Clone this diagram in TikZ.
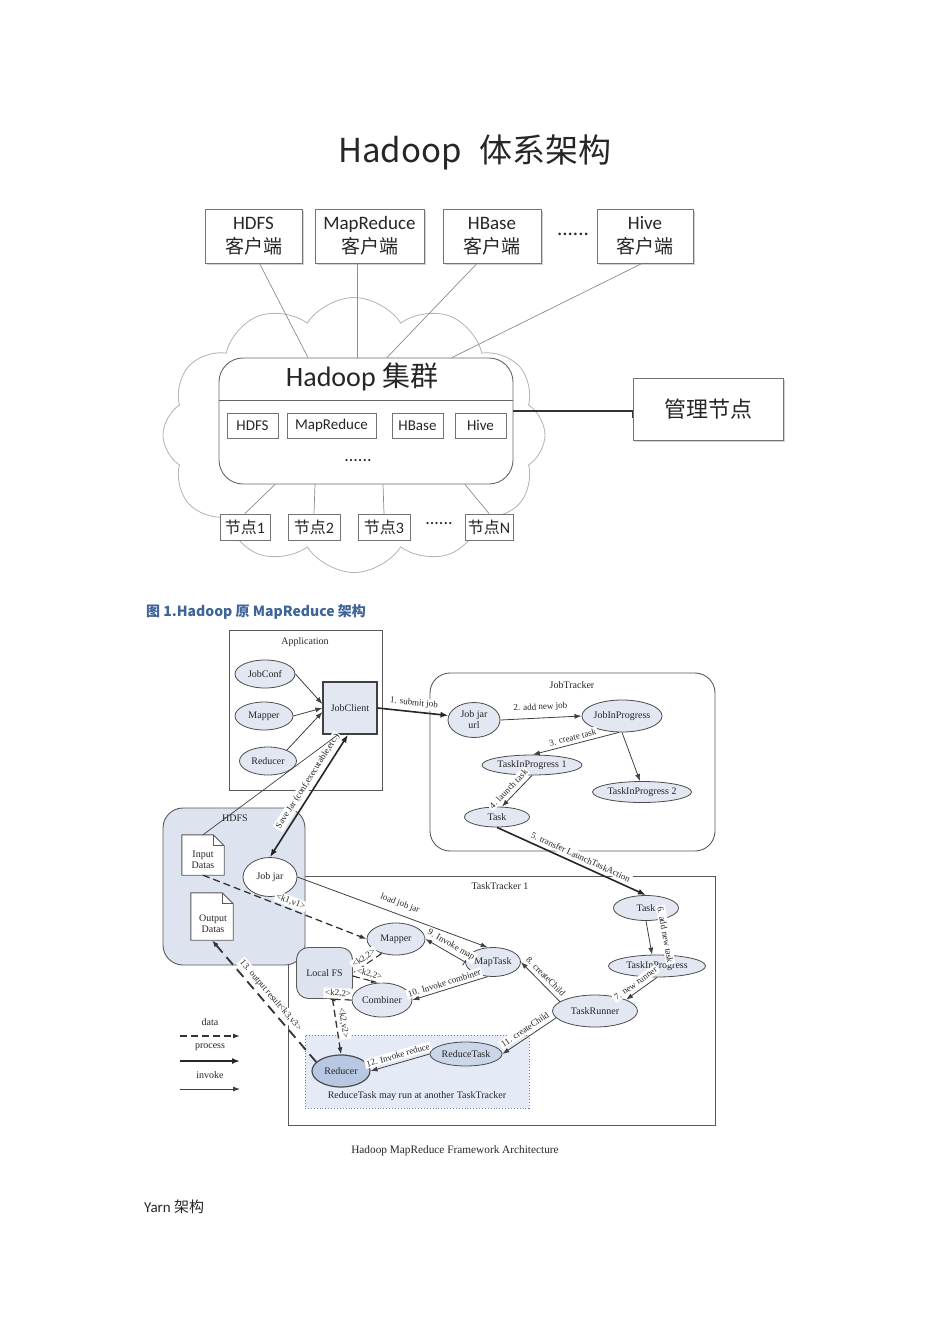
\documentclass[tikz,border=0pt]{standalone}
\usepackage{fontspec}
\setmainfont{Carlito}
\newfontfamily\cjk{Noto Sans CJK SC}
\newfontfamily\tms{Liberation Serif}
\usetikzlibrary{arrows.meta,shapes.geometric,shapes.symbols,shadows}

\definecolor{eblue}{RGB}{226,231,242}
\definecolor{hblue}{RGB}{221,228,240}
\definecolor{rblue}{RGB}{228,234,246}
\definecolor{dblue}{RGB}{184,200,226}
\definecolor{mblue}{RGB}{203,214,233}
\definecolor{capblue}{RGB}{62,100,152}
\definecolor{dotblue}{RGB}{112,122,172}

\begin{document}
\begin{tikzpicture}[x=1pt,y=-1pt,
  every node/.style={inner sep=0pt,text=black!85},
  cbox/.style={draw=black!55,line width=0.9pt,fill=white,align=center,
    drop shadow={shadow xshift=1.5pt,shadow yshift=-1.5pt,fill=black!35},
    font=\fontsize{19}{24}\selectfont},
  ibox/.style={draw=black!55,line width=0.9pt,fill=white,minimum height=25pt,
    drop shadow={shadow xshift=1.2pt,shadow yshift=-1.2pt,fill=black!35},
    font=\fontsize{15}{18}\selectfont},
  nbox/.style={ibox,minimum height=26pt,font=\fontsize{16}{18}\selectfont},
  link/.style={draw=black!45,line width=0.7pt},
  ell/.style={ellipse,draw=black!70,line width=0.8pt,fill=eblue,align=center,
    font=\tms\fontsize{10}{11}\selectfont},
  cont/.style={draw=black!65,line width=0.9pt},
  ttl/.style={font=\tms\fontsize{10}{11}\selectfont,align=center},
  lbl/.style={font=\tms\fontsize{9}{10}\selectfont,fill=white,inner sep=1.5pt,sloped},
  proc/.style={-{Latex[length=8pt,width=6pt]},line width=1.6pt,draw=black!85},
  procb/.style={proc,{Latex[length=8pt,width=6pt]}-{Latex[length=8pt,width=6pt]}},
  inv/.style={-{Latex[length=7pt,width=5pt]},line width=0.8pt,draw=black!75},
  dat/.style={-{Latex[length=7pt,width=5pt]},line width=1.3pt,draw=black!80,dash pattern=on 7pt off 4pt}]
\fill[white] (0,0) rectangle (950,1344);
\useasboundingbox (0,0) rectangle (950,1344);

% Hadoop architecture
\node[font=\cjk\fontsize{33}{38}\selectfont] (title) at (475,152) {Hadoop\hspace{0.55em}体系架构};
\node[cloud,draw=black!30,line width=0.8pt,cloud puffs=12,cloud puff arc=115,aspect=1.4,
  minimum width=382pt,minimum height=275pt] (cloud) at (354,435) {};

\node[cbox,minimum width=97pt,minimum height=54pt] (hdfsc) at (253.5,236) {HDFS\\{\cjk 客户端}};
\node[cbox,minimum width=109pt,minimum height=54pt] (mrc) at (369.5,236) {MapReduce\\{\cjk 客户端}};
\node[cbox,minimum width=98pt,minimum height=54pt] (hbc) at (492,236) {HBase\\{\cjk 客户端}};
\node[font=\fontsize{21}{24}\selectfont] (cdots) at (573,234) {......};
\node[cbox,minimum width=96pt,minimum height=54pt] (hivec) at (645,236) {Hive\\{\cjk 客户端}};

\node[draw=black!60,line width=0.9pt,fill=white,rounded corners=24pt,
  minimum width=294pt,minimum height=126pt] (cluster) at (366,421) {};
\node[font=\fontsize{28}{32}\selectfont] (clttl) at (362,377) {Hadoop {\cjk 集群}};
\draw[draw=black!60,line width=0.9pt] (cluster.west |- 0,400) -- (cluster.east |- 0,400);

\node[ibox,minimum width=51pt] (ihdfs) at (252.5,425.5) {HDFS};
\node[ibox,minimum width=89pt] (imr) at (331.5,425.5) {MapReduce};
\node[ibox,minimum width=51pt] (ihb) at (417.5,425.5) {HBase};
\node[ibox,minimum width=51pt] (ihive) at (480.5,425.5) {Hive};
\node[font=\fontsize{18}{20}\selectfont] (idots) at (358,461) {......};

\node[nbox,minimum width=50pt] (n1) at (245,527) {{\cjk 节点}1};
\node[nbox,minimum width=52pt] (n2) at (314,527) {{\cjk 节点}2};
\node[nbox,minimum width=52pt] (n3) at (384,527) {{\cjk 节点}3};
\node[font=\fontsize{18}{20}\selectfont] (ndots) at (439,524) {......};
\node[nbox,minimum width=48pt] (nN) at (489,527) {{\cjk 节点}N};

\node[cbox,minimum width=150pt,minimum height=62pt,font=\cjk\fontsize{22}{26}\selectfont] (mgmt) at (708,409) {管理节点};

\draw[link] ([xshift=6pt]hdfsc.south) -- ([xshift=-58pt]cluster.north);
\draw[link] ([xshift=-12.5pt]mrc.south) -- ([xshift=-9pt]cluster.north);
\draw[link] ([xshift=-15pt]hbc.south) -- ([xshift=21pt]cluster.north);
\draw[link] ([xshift=-3pt]hivec.south) -- ([xshift=86pt]cluster.north);
\draw[draw=black!80,line width=1.4pt] ([yshift=10pt]cluster.east) -| ([yshift=-9pt]mgmt.west);
\draw[link] ([xshift=-91pt]cluster.south) -- (n1.north);
\draw[link] ([xshift=-51pt]cluster.south) -- (n2.north);
\draw[link] ([xshift=17pt]cluster.south) -- (n3.north);
\draw[link] ([xshift=99pt]cluster.south) -- (nN.north);

% MapReduce framework
\node[anchor=west,font=\cjk\bfseries\fontsize{14}{17}\selectfont,text=capblue] (cap) at (146,612) {图 1.Hadoop 原 MapReduce 架构};

\node[cont,minimum width=427pt,minimum height=249pt] (tt) at (501.5,1000.5) {};
\node[cont,rounded corners=20pt,fill=hblue,minimum width=142pt,minimum height=157pt] (hdfs) at (234,886.5) {};
\node[cont,minimum width=153pt,minimum height=160pt] (app) at (305.5,710.5) {};
\node[cont,rounded corners=20pt,minimum width=285pt,minimum height=178pt] (jt) at (572.5,762) {};
\node[draw=dotblue,dotted,line width=0.9pt,fill=rblue,minimum width=224pt,minimum height=73pt] (rarea) at (417,1071.5) {};
\node[cont,rounded corners=12pt,fill=hblue,minimum width=56pt,minimum height=51pt,
  font=\tms\fontsize{10}{11}\selectfont] (localfs) at (324.5,973) {Local FS};

\node[ttl] (appttl) at (305,642) {Application};
\node[ttl] (jtttl) at (572,685) {JobTracker};
\node[ttl] (ttttl) at (500,886) {TaskTracker 1};
\node[ttl] (hdfsttl) at (235,818) {HDFS};
\node[ttl] (rareattl) at (417,1096) {ReduceTask may run at another TaskTracker};

\node[ell,minimum width=60pt,minimum height=28pt] (jobconf) at (265,674) {JobConf};
\node[ell,minimum width=58pt,minimum height=28pt] (amapper) at (264,716) {Mapper};
\node[ell,minimum width=57pt,minimum height=28pt] (areducer) at (268,761) {Reducer};
\node[draw=black!75,line width=1.3pt,fill=eblue,minimum width=54pt,minimum height=52pt,
  font=\tms\fontsize{10}{11}\selectfont] (jobclient) at (350,708) {JobClient};

\node[ell,minimum width=52pt,minimum height=35pt] (jarurl) at (474,720) {Job jar\\url};
\node[ell,minimum width=80pt,minimum height=32pt] (jip) at (622,716) {JobInProgress};
\node[ell,minimum width=100pt,minimum height=20pt] (tip1) at (532,765) {TaskInProgress 1};
\node[ell,minimum width=99pt,minimum height=21pt] (tip2) at (642,792) {TaskInProgress 2};
\node[ell,minimum width=65pt,minimum height=20pt] (task1) at (497,817) {Task};

\node[minimum width=42pt,minimum height=40pt] (ind) at (203,855) {};
\draw[cont,fill=white] (ind.north west) -- ([xshift=-11pt]ind.north east) -- ([yshift=-11pt]ind.north east)
  -- (ind.south east) -- (ind.south west) -- cycle;
\draw[cont] ([xshift=-11pt]ind.north east) -- ([xshift=-11pt,yshift=-11pt]ind.north east) -- ([yshift=-11pt]ind.north east);
\node[ttl] (indtxt) at (203,860) {Input\\Datas};
\node[minimum width=42pt,minimum height=47pt] (outd) at (212,916.5) {};
\draw[cont,fill=white] (outd.north west) -- ([xshift=-11pt]outd.north east) -- ([yshift=-11pt]outd.north east)
  -- (outd.south east) -- (outd.south west) -- cycle;
\draw[cont] ([xshift=-11pt]outd.north east) -- ([xshift=-11pt,yshift=-11pt]outd.north east) -- ([yshift=-11pt]outd.north east);
\node[ttl] (outdtxt) at (213,924) {Output\\Datas};
\node[ell,fill=white,minimum width=54pt,minimum height=39pt] (jobjar) at (270,877) {Job jar};

\node[ell,minimum width=65pt,minimum height=25pt] (ttask) at (646,908) {Task};
\node[ell,minimum width=97pt,minimum height=22pt] (ttip) at (657,966) {TaskInProgress};
\node[ell,minimum width=85pt,minimum height=32pt] (runner) at (595,1011) {TaskRunner};
\node[ell,minimum width=55pt,minimum height=29pt] (maptask) at (493,962) {MapTask};
\node[ell,minimum width=58pt,minimum height=32pt] (mapper) at (396,939) {Mapper};
\node[ell,minimum width=60pt,minimum height=34pt] (combiner) at (382,1000) {Combiner};
\node[ell,fill=mblue,minimum width=72pt,minimum height=24pt] (reducetask) at (466,1054) {ReduceTask};
\node[ell,fill=dblue,line width=1.2pt,minimum width=58pt,minimum height=32pt] (reducer) at (341,1071) {Reducer};

\draw[inv] (jobconf.east) -- ([yshift=4pt]jobclient.west);
\draw[inv] (amapper.east) -- (jobclient.west);
\draw[inv] (areducer.30) -- ([yshift=-4pt]jobclient.west);
\draw[proc] (jobclient.east) -- node[lbl,above,outer sep=3pt] {1. submit job} (jarurl.170);
\draw[inv] (jarurl.east) -- node[lbl,above,outer sep=5pt] {2. add new job} (jip.west);
\draw[inv] (jip.260) -- node[lbl,above,pos=0.52,outer sep=2pt] {3. create task} (tip1.85);
\draw[inv] (jip.south) -- ([xshift=-2pt]tip2.north);
\draw[inv] (tip1.south) -- node[lbl,above,pos=0.6,outer sep=3pt] {4. launch task} ([xshift=5pt]task1.north);
\draw[proc] (task1.south) -- node[lbl,above,pos=0.54,outer sep=3pt] {5. transfer LaunchTaskAction} (ttask.north);
\draw[inv] (ttask.south) -- node[lbl,above,pos=0.5,outer sep=12pt] {6. add new task} ([xshift=-5pt]ttip.north);
\draw[inv] (ttip.south) -- node[lbl,above,pos=0.55,outer sep=3pt] {7. new runner} (runner.20);
\draw[inv] (runner.165) -- node[lbl,above,pos=0.5,outer sep=3pt] {8. createChild} (maptask.east);
\draw[inv] (jobjar.east) -- node[lbl,above,pos=0.52,outer sep=5pt] {load job jar} (maptask.110);
\draw[{Bar[width=8pt]}-{Latex[length=7pt,width=5pt]},line width=0.8pt,draw=black!75] (maptask.west) -- node[lbl,above,pos=0.45,outer sep=2pt] {9. Invoke map} (mapper.east);
\draw[inv] (maptask.250) -- node[lbl,above,pos=0.55,outer sep=2pt] {10. Invoke combiner} (combiner.east);
\draw[inv] (runner.190) -- node[lbl,above,pos=0.5,outer sep=3pt] {11. createChild} (reducetask.east);
\draw[inv] (reducetask.west) -- node[lbl,above,pos=0.5,outer sep=3pt] {12. Invoke reduce} (reducer.east);
\draw[procb] ([xshift=-2pt]jobclient.south) -- node[lbl,above,pos=0.42,outer sep=3pt] {Save Jar (conf,executable,etc.)} (jobjar.north);
\draw[link,draw=black!75] ([xshift=-12pt]jobclient.south) -- (ind.north);

\draw[dat] (ind.south) -- node[lbl,above,pos=0.52,outer sep=2pt] {<k1,v1>} (mapper.west);
\draw[dat] (mapper.225) -- node[lbl,above,pos=0.5] {<k2,2>} (localfs.east);
\draw[dat] ([yshift=-3pt]localfs.east) -- node[lbl,above,pos=0.6] {<k2,2>} ([xshift=-4pt]combiner.north);
\draw[dat] (combiner.west) -- node[lbl,above,pos=0.6] {<k2,2>} ([xshift=4pt]localfs.south);
\draw[dat] ([xshift=8pt]localfs.south) -- node[lbl,above,pos=0.45,outer sep=2pt] {<k2,v2>} (reducer.north);
\draw[dat,line width=1.8pt,dash pattern=on 10pt off 6pt] (reducer.160) -- node[lbl,above,pos=0.5,outer sep=3pt] {13. output result<k3,v3>} (outd.south);

% legend
\node[ttl] (lgdata) at (210,1022) {data};
\node[ttl] (lgproc) at (210,1047) {process};
\node[ttl] (lginv) at (210,1075) {invoke};
\coordinate (d1) at (180,1036);
\coordinate (d2) at (240,1036);
\coordinate (p1) at (180,1061);
\coordinate (p2) at (240,1061);
\coordinate (i1) at (180,1089);
\coordinate (i2) at (240,1089);
\draw[dat] (d1) -- (d2);
\draw[proc] (p1) -- (p2);
\draw[inv] (i1) -- (i2);

\node[ttl,font=\tms\fontsize{11.3}{13}\selectfont] (figcap) at (455,1151) {Hadoop MapReduce Framework Architecture};
\node[anchor=west,font=\fontsize{15}{18}\selectfont] (yarn) at (144,1207) {Yarn {\cjk 架构}};
\end{tikzpicture}
\end{document}
